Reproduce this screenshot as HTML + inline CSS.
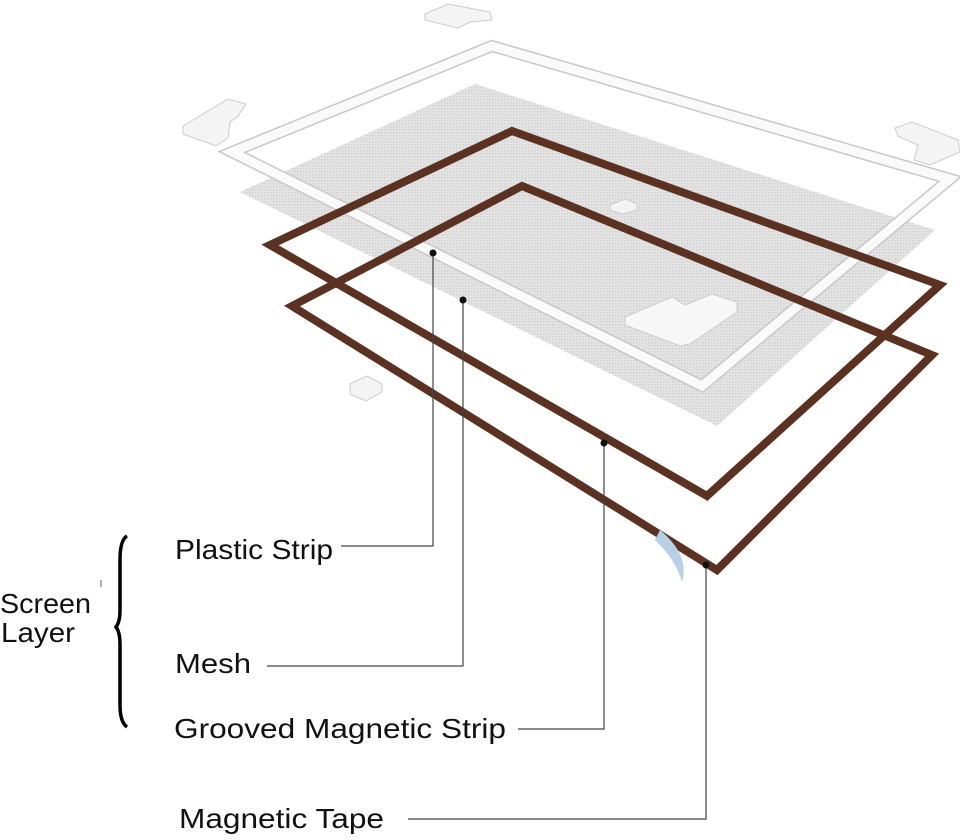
<!DOCTYPE html>
<html><head><meta charset="utf-8"><style>html,body{margin:0;padding:0;background:#fff}svg{display:block}</style></head>
<body>
<svg width="960" height="840" viewBox="0 0 960 840" xmlns="http://www.w3.org/2000/svg">
<defs>
<pattern id="mp" width="3" height="3" patternUnits="userSpaceOnUse">
<rect width="3" height="3" fill="#e4e4e4"/><rect width="1.5" height="1.5" fill="#cfcfcf"/>
</pattern>
</defs>
<!-- mesh -->
<polygon points="475,84 935,230 717,426 240,192" fill="url(#mp)"/>
<!-- white frame -->
<polygon points="492,46 950,179 702,386 232,152" fill="none" stroke="#c8c8c8" stroke-width="12" stroke-linejoin="miter"/>
<polygon points="492,46 950,179 702,386 232,152" fill="none" stroke="#fafafa" stroke-width="9" stroke-linejoin="miter"/>
<!-- brown frame 1 -->
<polygon points="512,131 940,285 707,496 270,245" fill="none" stroke="#5b3221" stroke-width="8"/>
<!-- brown frame 2 -->
<polygon points="522,186 932,355 717,570 292,306" fill="none" stroke="#5b3221" stroke-width="8"/>
<!-- blue tape curl -->
<path d="M660,530 Q690,555 682,582 Q676,560 655,540 Z" fill="#b8cfe8"/>
<!-- corner pieces -->
<polygon points="425,14 448,4 490,12 492,20 470,22 458,28 425,20" fill="#f4f4f4" stroke="#ccc"/>
<polygon points="183,126 228,99 246,104 238,116 230,122 228,138 216,146 183,134" fill="#f4f4f4" stroke="#ccc"/>
<polygon points="895,128 912,122 958,140 960,152 930,165 914,160 918,145 898,136" fill="#f4f4f4" stroke="#ccc"/>
<polygon points="625,317 672,297 685,305 712,294 737,302 737,312 690,344 680,346 625,325" fill="#f7f7f7" stroke="#ccc"/>
<polygon points="610,205 625,199 637,204 637,210 622,214 610,210" fill="#f4f4f4" stroke="#ccc"/>
<polygon points="350,384 367,376 382,384 382,392 366,401 350,394" fill="#f4f4f4" stroke="#ccc"/>
<!-- leader lines -->
<g fill="none" stroke="#444" stroke-width="1.2">
<polyline points="433,253 433,546 341,546"/>
<polyline points="463,300 463,666 267,666"/>
<polyline points="604,443 604,729 518,729"/>
<polyline points="706,565 706,819 408,819"/>
</g>
<g fill="#111">
<circle cx="433" cy="253" r="3.5"/><circle cx="463" cy="300" r="3.5"/>
<circle cx="604" cy="443" r="3.5"/><circle cx="706" cy="565" r="3.5"/>
</g>
<!-- labels -->
<g font-family="Liberation Sans, sans-serif" font-size="28" fill="#111">
<text x="175" y="559" textLength="158" lengthAdjust="spacingAndGlyphs">Plastic Strip</text>
<text x="175" y="673" textLength="76" lengthAdjust="spacingAndGlyphs">Mesh</text>
<text x="174" y="738" textLength="332" lengthAdjust="spacingAndGlyphs">Grooved Magnetic Strip</text>
<text x="179" y="828" textLength="205" lengthAdjust="spacingAndGlyphs">Magnetic Tape</text>
<text x="0" y="613" textLength="91" lengthAdjust="spacingAndGlyphs">Screen</text>
<text x="1" y="642" textLength="74" lengthAdjust="spacingAndGlyphs">Layer</text>
</g>
<line x1="101" y1="580" x2="101" y2="587" stroke="#666" stroke-width="1"/>
<!-- brace -->
<path d="M127,536 Q120,540 120,560 L120,610 Q120,622 116,627 Q120,632 120,644 L120,705 Q120,722 127,727" fill="none" stroke="#000" stroke-width="3.5"/>
</svg>
</body></html>
